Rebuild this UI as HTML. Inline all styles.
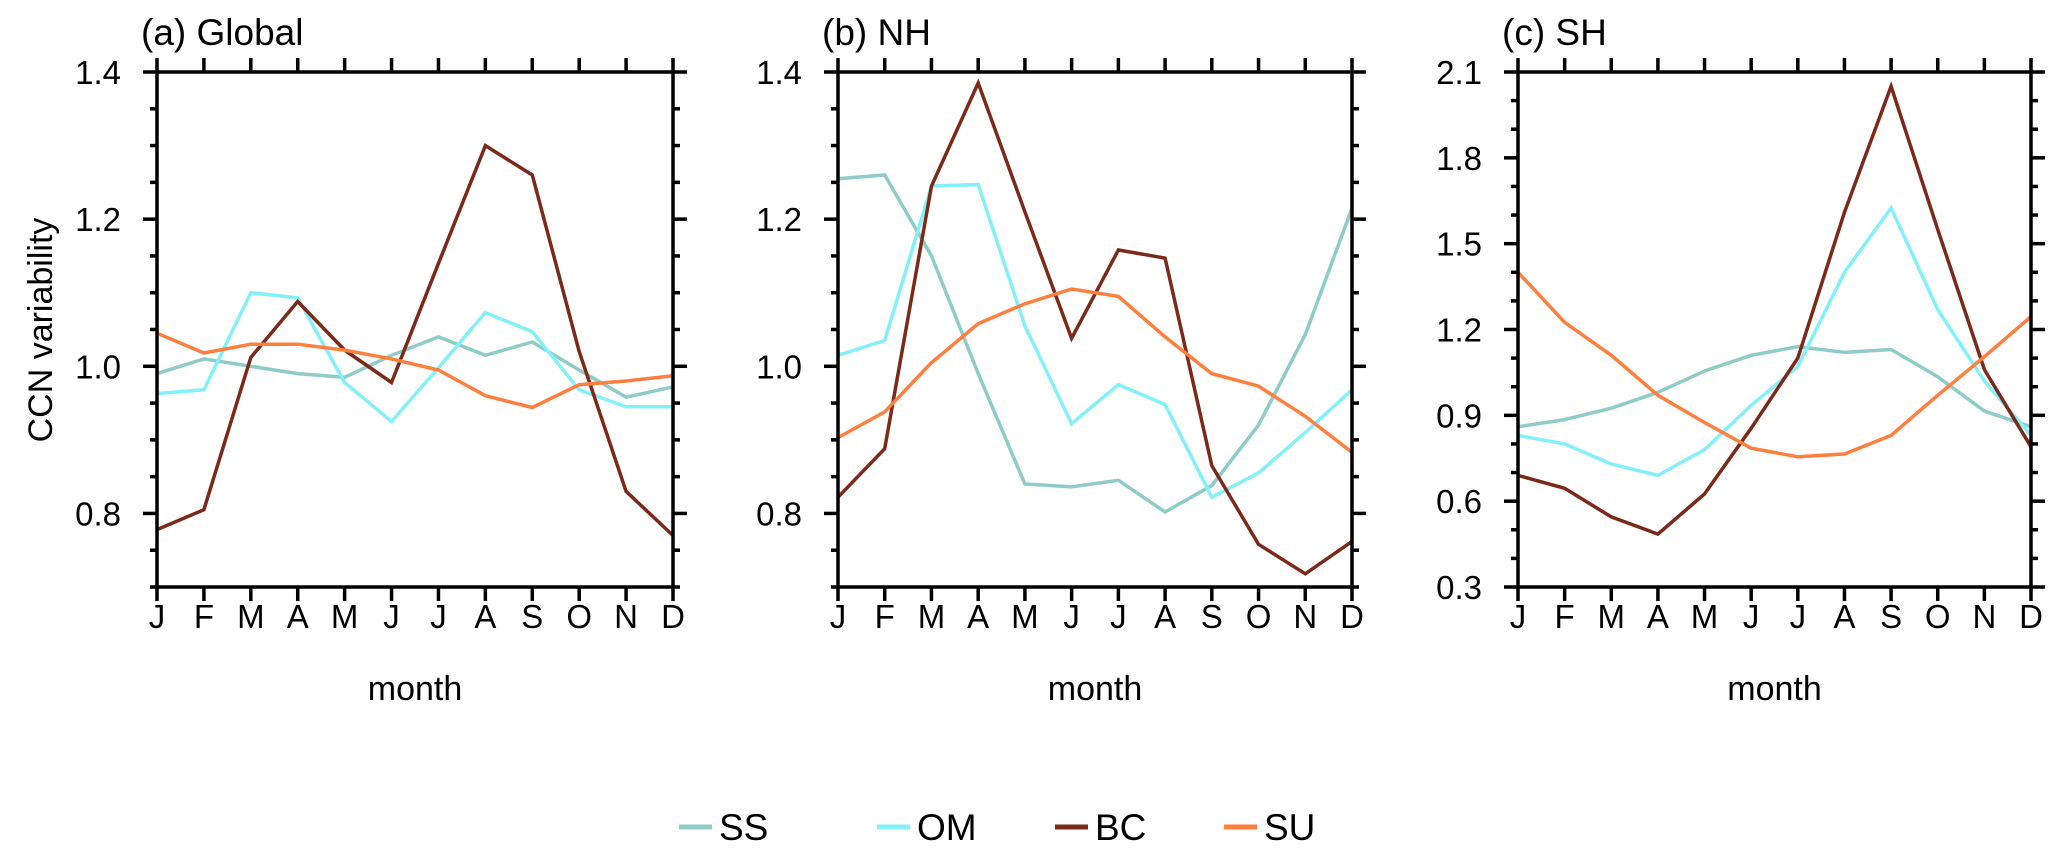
<!DOCTYPE html>
<html><head><meta charset="utf-8"><style>
body{margin:0;background:#fff;width:2067px;height:854px;overflow:hidden}
svg text{font-family:"Liberation Sans",sans-serif;fill:#000}
</style></head><body>
<svg id="chart" width="2067" height="854" xmlns="http://www.w3.org/2000/svg"></svg>
<script>
const months = ["J","F","M","A","M","J","J","A","S","O","N","D"];
const seriesNames = ["SS","OM","BC","SU"];
const seriesColors = ["#8fcbc8","#84f0fa","#7b2a1a","#ff7f3f"];
const panelTitles = ["(a) Global","(b) NH","(c) SH"];
const globalSS = [0.99,1.01,1.0,0.99,0.985,1.015,1.04,1.015,1.033,0.995,0.958,0.972];
const globalOM = [0.963,0.968,1.10,1.093,0.978,0.925,0.998,1.073,1.047,0.968,0.945,0.945];
const globalBC = [0.778,0.805,1.012,1.088,1.022,0.978,1.14,1.30,1.26,1.02,0.83,0.77];
const globalSU = [1.045,1.018,1.03,1.03,1.022,1.01,0.995,0.96,0.944,0.975,0.98,0.987];
const nhSS = [1.255,1.26,1.15,0.99,0.84,0.836,0.845,0.802,0.838,0.92,1.043,1.215];
const nhOM = [1.015,1.035,1.245,1.247,1.055,0.922,0.975,0.948,0.822,0.855,0.91,0.968];
const nhBC = [0.822,0.888,1.245,1.385,1.21,1.038,1.158,1.147,0.865,0.758,0.718,0.762];
const nhSU = [0.903,0.938,1.005,1.058,1.085,1.105,1.095,1.04,0.99,0.973,0.932,0.883];
const shSS = [0.86,0.885,0.925,0.98,1.055,1.11,1.14,1.12,1.13,1.035,0.915,0.86];
const shOM = [0.83,0.80,0.73,0.69,0.78,0.935,1.07,1.40,1.625,1.27,1.02,0.83];
const shBC = [0.69,0.645,0.545,0.485,0.625,0.855,1.10,1.61,2.05,1.55,1.06,0.79];
const shSU = [1.40,1.225,1.11,0.97,0.875,0.785,0.755,0.765,0.83,0.97,1.105,1.245];
const abTicks = ["0.8","1.0","1.2","1.4"];
const cTicks = ["0.3","0.6","0.9","1.2","1.5","1.8","2.1"];

const NS="http://www.w3.org/2000/svg";
const svg=document.getElementById('chart');
function mk(t,a,p){const e=document.createElementNS(NS,t);for(const k in a)e.setAttribute(k,a[k]);(p||svg).appendChild(e);return e;}

const panels=[
 {x0:157,x1:673,ymin:0.7,ymax:1.4,minor:0.05,ticks:abTicks,data:[globalSS,globalOM,globalBC,globalSU],name:'global'},
 {x0:838,x1:1352,ymin:0.7,ymax:1.4,minor:0.05,ticks:abTicks,data:[nhSS,nhOM,nhBC,nhSU],name:'nh'},
 {x0:1518,x1:2031,ymin:0.3,ymax:2.1,minor:0.1,ticks:cTicks,data:[shSS,shOM,shBC,shSU],name:'sh'}
];
const Y0=72,Y1=587;
panels.forEach((p,pi)=>{
 const g=mk('g',{});
 
 
 const xs=i=>p.x0+(p.x1-p.x0)*i/(months.length-1);
 const ys=v=>Y1-(v-p.ymin)/(p.ymax-p.ymin)*(Y1-Y0);
 p.data.forEach((arr,si)=>{
  const pts=arr.map((v,i)=>xs(i).toFixed(1)+','+ys(v).toFixed(1)).join(' ');
  const l=mk('polyline',{points:pts,fill:'none',stroke:seriesColors[si],'stroke-width':3.5,'stroke-linejoin':'miter'},g);
  
  
 });
 const fr=mk('rect',{x:p.x0,y:Y0,width:p.x1-p.x0,height:Y1-Y0,fill:'none',stroke:'#000','stroke-width':3.5},g);
 
 
 months.forEach((m,i)=>{
  const x=xs(i);
  mk('line',{x1:x,x2:x,y1:Y0,y2:Y0-14,stroke:'#000','stroke-width':3.5},g);
  mk('line',{x1:x,x2:x,y1:Y1,y2:Y1+14,stroke:'#000','stroke-width':3.5},g);
  const t=mk('text',{x:x,y:628,'font-size':33,'text-anchor':'middle'},g);
  t.textContent=m;
  
  
 });
 const nMinor=Math.round((p.ymax-p.ymin)/p.minor);
 for(let k=0;k<=nMinor;k++){
  const v=p.ymin+k*p.minor, y=ys(v);
  const major=p.ticks.some(s=>Math.abs(parseFloat(s)-v)<1e-6);
  const L=major?14:7;
  mk('line',{x1:p.x0,x2:p.x0-L,y1:y,y2:y,stroke:'#000','stroke-width':3.5},g);
  mk('line',{x1:p.x1,x2:p.x1+L,y1:y,y2:y,stroke:'#000','stroke-width':3.5},g);
 }
 p.ticks.forEach(s=>{
  const t=mk('text',{x:p.x0-36,y:ys(parseFloat(s))+12,'font-size':33,'text-anchor':'end'},g);
  t.textContent=s;
  
  
 });
 const tt=mk('text',{x:p.x0-16,y:45,'font-size':37},g);
 tt.textContent=panelTitles[pi];
 
 
 const xl=mk('text',{x:(p.x0+p.x1)/2,y:700,'font-size':34,'text-anchor':'middle'},g);
 xl.textContent='month';
 
 
});
const yl=mk('text',{x:0,y:0,'font-size':34,'text-anchor':'middle',transform:'translate(52,330) rotate(-90)'});
yl.textContent='CCN variability';


const legX=[679,877,1055,1224];
seriesNames.forEach((n,i)=>{
 const g=mk('g',{});
 
 
 mk('line',{x1:legX[i],x2:legX[i]+33,y1:827,y2:827,stroke:seriesColors[i],'stroke-width':5},g);
 const t=mk('text',{x:legX[i]+40,y:840,'font-size':37},g);
 t.textContent=n;
});
</script>
</body></html>
